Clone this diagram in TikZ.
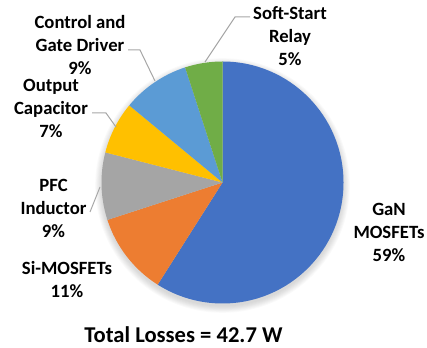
\documentclass[tikz,border=0pt]{standalone}
\usepackage{fontspec}
\setmainfont{Carlito}
\definecolor{ganblue}{HTML}{4472C4}
\definecolor{siorange}{HTML}{ED7D31}
\definecolor{pfcgray}{HTML}{A5A5A5}
\definecolor{capgold}{HTML}{FFC000}
\definecolor{ctrlblue}{HTML}{5B9BD5}
\definecolor{softgreen}{HTML}{70AD47}
\definecolor{leadergray}{HTML}{A6A6A6}
\begin{document}
\begin{tikzpicture}[x=1pt,y=1pt,
  lbl/.style={align=center, inner sep=0pt, font=\bfseries\fontsize{18.7}{23}\selectfont},
  leader/.style={draw=leadergray, line width=1pt}]
\useasboundingbox (0,0) rectangle (427,347);
\def\R{121}
\coordinate (c) at (222.5,164.5);
% soft shadow under the pie
\foreach \i in {0,...,7}
  \fill[black, opacity=0.018] ([yshift=-3pt]c) circle[radius=\R+\i*0.9];
% slices, clockwise from twelve o'clock
\foreach \a/\b/\col in {90/-122.4/ganblue, -122.4/-162/siorange, -162/-194.4/pfcgray,
                        -194.4/-219.6/capgold, -219.6/-252/ctrlblue, -252/-270/softgreen}
  \fill[\col] (c) -- ++(\a:\R) arc[start angle=\a, end angle=\b, radius=\R] -- cycle;
% labels
\node[lbl] (gan) at (389,115) {GaN\\MOSFETs\\59\%};
\node[lbl] (si) at (67,67) {Si-MOSFETs\\11\%};
\node[lbl] (pfc) at (53.5,139) {PFC\\Inductor\\9\%};
\node[lbl] (cap) at (51,239) {Output\\Capacitor\\7\%};
\node[lbl] (ctrl) at (80,302) {Control and\\Gate Driver\\9\%};
\node[lbl] (soft) at (290,311) {Soft-Start\\Relay\\5\%};
\node[font=\bfseries\fontsize{22.6}{27}\selectfont, inner sep=0pt] (total) at (183.5,12) {Total Losses = 42.7 W};
% leader lines
\coordinate (ctrlA) at (128,297); \coordinate (ctrlB) at (140,297); \coordinate (ctrlC) at (155,266);
\coordinate (capA) at (92,234); \coordinate (capB) at (106,234); \coordinate (capC) at (116,220);
\coordinate (softA) at (250,330); \coordinate (softB) at (235,330); \coordinate (softC) at (205,285);
\coordinate (pfcA) at (90,135); \coordinate (pfcC) at (100,160);
\draw[leader] (ctrlA) -- (ctrlB) -- (ctrlC);
\draw[leader] (capA) -- (capB) -- (capC);
\draw[leader] (softA) -- (softB) -- (softC);
\draw[leader] (pfcA) -- (pfcC);
\end{tikzpicture}
\end{document}
